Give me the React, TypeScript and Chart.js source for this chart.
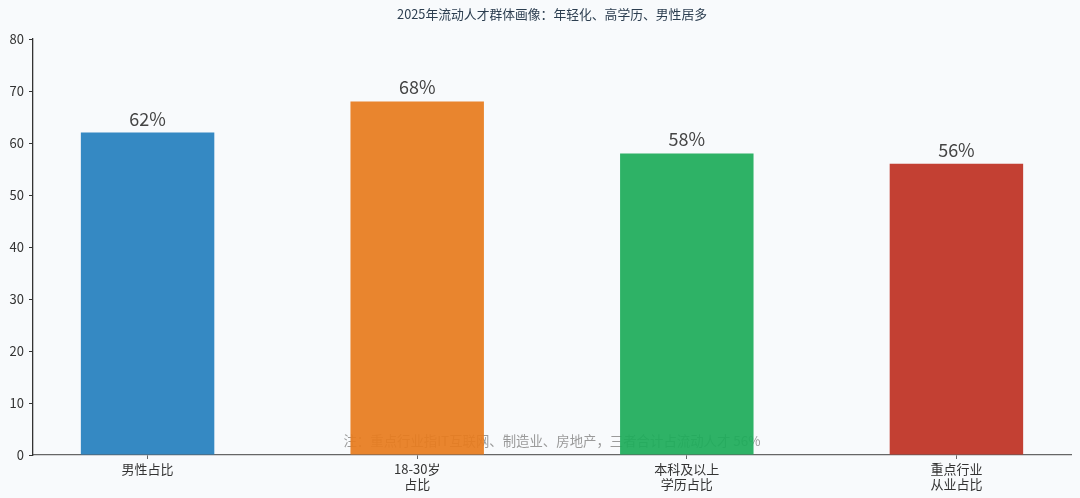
import { useEffect, useRef } from "react"
import { Chart, registerables } from "chart.js"

Chart.register(...registerables)

const categories = [["男性占比"], ["18-30岁", "占比"], ["本科及以上", "学历占比"], ["重点行业", "从业占比"]]
const values = [62, 68, 58, 56]
const barColors = ["rgba(38,128,190,0.93)", "rgba(231,124,30,0.93)", "rgba(30,172,90,0.93)", "rgba(190,50,36,0.93)"]
const yTicks = [0, 10, 20, 30, 40, 50, 60, 70, 80]
const titleText = "2025年流动人才群体画像：年轻化、高学历、男性居多"
const noteText = "注：重点行业指IT互联网、制造业、房地产，三者合计占流动人才 56%"

const FONT = '"Noto Sans CJK SC", "Noto Sans", sans-serif'

export default function App() {
  const canvasRef = useRef<HTMLCanvasElement>(null)

  useEffect(() => {
    document.body.style.margin = "0"
    document.body.style.background = "#f8fafc"
    if (!canvasRef.current) return
    const ctx = canvasRef.current.getContext("2d")
    if (!ctx) return

    const decorations = {
      id: "decorations",
      beforeDraw(chart: any) {
        const c = chart.ctx
        c.save()
        c.fillStyle = "#f8fafc"
        c.fillRect(0, 0, chart.width, chart.height)
        c.restore()
      },
      beforeDatasetsDraw(chart: any) {
        const c = chart.ctx
        const area = chart.chartArea
        c.save()
        c.font = `13.4px ${FONT}`
        c.fillStyle = "#9a9a9a"
        c.textAlign = "center"
        c.textBaseline = "middle"
        c.fillText(noteText, (area.left + area.right) / 2, 441)
        c.restore()
      },
      afterDatasetsDraw(chart: any) {
        const c = chart.ctx
        const meta = chart.getDatasetMeta(0)
        c.save()
        c.font = `18px ${FONT}`
        c.fillStyle = "#444444"
        c.textAlign = "center"
        c.textBaseline = "alphabetic"
        meta.data.forEach((bar: any, i: number) => {
          c.fillText(`${values[i]}%`, bar.x, bar.y - 7)
        })
        const area = chart.chartArea
        c.font = `12.8px ${FONT}`
        c.fillStyle = "#2c3e50"
        c.textBaseline = "middle"
        c.fillText(titleText, (area.left + area.right) / 2, 14)
        c.restore()
      },
    }

    const chart = new Chart(ctx, {
      type: "bar",
      data: {
        datasets: [
          {
            data: values.map((v, i) => ({ x: i, y: v })),
            backgroundColor: barColors,
            borderWidth: 0,
            barPercentage: 0.495,
            categoryPercentage: 1,
          },
        ],
      },
      options: {
        animation: false,
        responsive: true,
        maintainAspectRatio: false,
        layout: {
          padding: { top: 39, right: 9, left: 0, bottom: 0 },
        },
        plugins: {
          legend: { display: false },
          tooltip: { enabled: false },
          title: { display: false },
        },
        scales: {
          x: {
            type: "linear",
            min: -0.425,
            max: 3.425,
            offset: false,
            afterBuildTicks: (scale: any) => {
              scale.ticks = categories.map((_, i) => ({ value: i }))
            },
            afterFit: (scale: any) => {
              scale.height = 43
            },
            ticks: {
              callback: (_value: any, index: number) => categories[index],
              color: "#333333",
              font: { family: FONT, size: 13, lineHeight: 1.15 },
              padding: 3,
              maxRotation: 0,
              autoSkip: false,
            },
            grid: {
              offset: false,
              drawOnChartArea: false,
              drawTicks: true,
              tickLength: 4,
              tickColor: "#666666",
            },
            border: { color: "#666666", width: 1.3 },
          },
          y: {
            min: 0,
            max: 80,
            afterBuildTicks: (scale: any) => {
              scale.ticks = yTicks.map((v) => ({ value: v }))
            },
            afterFit: (scale: any) => {
              scale.width = 33
            },
            ticks: {
              color: "#333333",
              font: { family: FONT, size: 13 },
              padding: 5,
            },
            grid: {
              drawOnChartArea: false,
              drawTicks: true,
              tickLength: 4,
              tickColor: "#333333",
            },
            border: { color: "#333333", width: 1.3 },
          },
        },
      },
      plugins: [decorations],
    })

    return () => {
      chart.destroy()
    }
  }, [])

  return (
    <div style={{ position: "relative", width: 1080, height: 498 }}>
      <canvas ref={canvasRef}></canvas>
    </div>
  )
}
